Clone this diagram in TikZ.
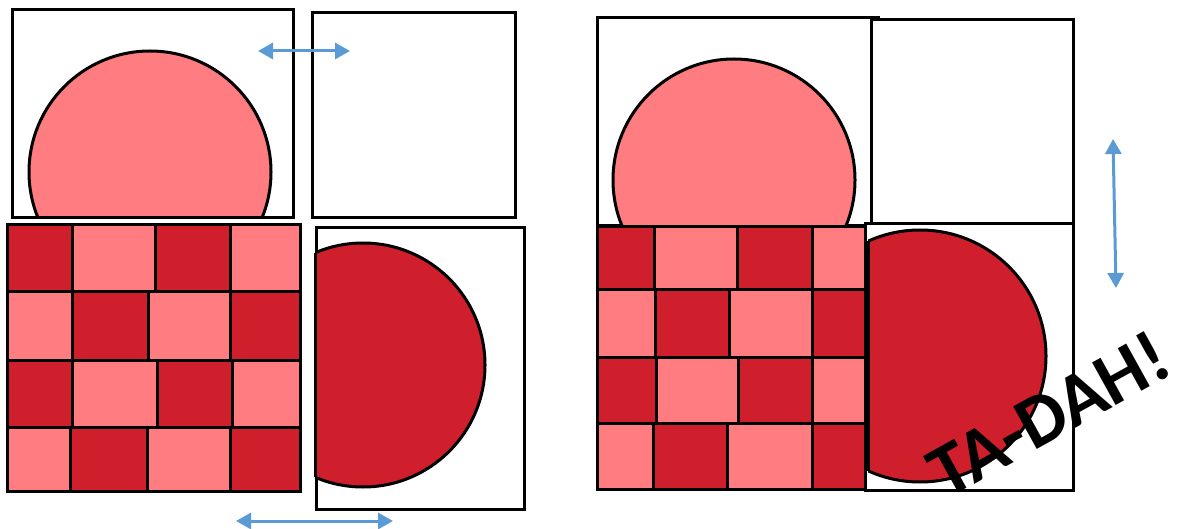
\documentclass[tikz,border=0pt]{standalone}
\usepackage{fontspec}
\newfontfamily\tadahfont{Carlito}
\usetikzlibrary{arrows.meta}
\definecolor{pinkc}{HTML}{FF7C80}
\definecolor{redc}{HTML}{D01F2C}
\definecolor{bluec}{HTML}{5B9BD5}
\newcommand\cellbox[5]{\draw[cellline,fill=#5] (#1,#2) rectangle (#3,#4);}
\begin{document}
\begin{tikzpicture}[x=1pt,y=-1pt,
  frame/.style={draw=black,line width=3pt,fill=white},
  cellline/.style={draw=black,line width=3pt},
  half/.style={draw=black,line width=3pt},
  bluearrow/.style={draw=bluec,line width=3pt,{Triangle[length=15pt,width=16pt]}-{Triangle[length=15pt,width=16pt]}},
  tadah/.style={font=\tadahfont\bfseries\fontsize{75}{75}\selectfont,inner sep=0pt}]
\useasboundingbox[fill=white] (0,0) rectangle (1183,529);

% ===== Left group =====
\draw[frame] (12,10) rectangle (293,218);
\draw[frame] (312,13) rectangle (515,218);
\draw[frame] (316,228) rectangle (524,509);
% pink half disc
\begin{scope}
  \clip (0,0) rectangle (400,218);
  \draw[half,fill=pinkc] (150,172) circle (121);
\end{scope}
\draw[half] (36,218) -- (264,218);
% red half disc
\begin{scope}
  \clip (315,0) rectangle (600,529);
  \draw[half,fill=redc] (363,365) circle (122);
\end{scope}
\draw[half] (315,253) -- (315,477);
% checkerboard
\cellbox{7}{225}{72}{292}{redc}
\cellbox{72}{225}{155}{292}{pinkc}
\cellbox{155}{225}{230}{292}{redc}
\cellbox{230}{225}{300}{292}{pinkc}
\cellbox{7}{292}{72}{360}{pinkc}
\cellbox{72}{292}{148}{360}{redc}
\cellbox{148}{292}{230}{360}{pinkc}
\cellbox{230}{292}{300}{360}{redc}
\cellbox{7}{360}{72}{427}{redc}
\cellbox{72}{360}{157}{427}{pinkc}
\cellbox{157}{360}{232}{427}{redc}
\cellbox{232}{360}{300}{427}{pinkc}
\cellbox{7}{427}{70}{491}{pinkc}
\cellbox{70}{427}{147}{491}{redc}
\cellbox{147}{427}{230}{491}{pinkc}
\cellbox{230}{427}{300}{491}{redc}
% arrows
\coordinate (a1l) at (258,51);
\coordinate (a1r) at (350,51);
\draw[bluearrow] (a1l) -- (a1r);
\coordinate (a2l) at (236,521);
\coordinate (a2r) at (393,521);
\draw[bluearrow] (a2l) -- (a2r);

% ===== Right group =====
\draw[frame] (597,18) rectangle (878,226);
\draw[frame] (871,20) rectangle (1073,224);
\draw[frame] (865,224) rectangle (1073,490);
\begin{scope}
  \clip (580,0) rectangle (900,228);
  \draw[half,fill=pinkc] (734,180) circle (121);
\end{scope}
\draw[half] (622,228) -- (846,228);
\begin{scope}
  \clip (868,200) rectangle (1100,500);
  \draw[half,fill=redc] (920,356) circle (126);
\end{scope}
\draw[half] (868,241) -- (868,471);
\cellbox{597}{227}{654}{290}{redc}
\cellbox{654}{227}{737}{290}{pinkc}
\cellbox{737}{227}{812}{290}{redc}
\cellbox{812}{227}{865}{290}{pinkc}
\cellbox{597}{290}{655}{357}{pinkc}
\cellbox{655}{290}{729}{357}{redc}
\cellbox{729}{290}{812}{357}{pinkc}
\cellbox{812}{290}{865}{357}{redc}
\cellbox{597}{357}{656}{423}{redc}
\cellbox{656}{357}{738}{423}{pinkc}
\cellbox{738}{357}{812}{423}{redc}
\cellbox{812}{357}{865}{423}{pinkc}
\cellbox{597}{423}{653}{489}{pinkc}
\cellbox{653}{423}{727}{489}{redc}
\cellbox{727}{423}{812}{489}{pinkc}
\cellbox{812}{423}{865}{489}{redc}
\coordinate (a3t) at (1113,139);
\coordinate (a3b) at (1116,288);
\draw[bluearrow] (a3t) -- (a3b);
\node[tadah,rotate=29] (tadah) at (1049,414) {TA-DAH!};
\end{tikzpicture}
\end{document}
